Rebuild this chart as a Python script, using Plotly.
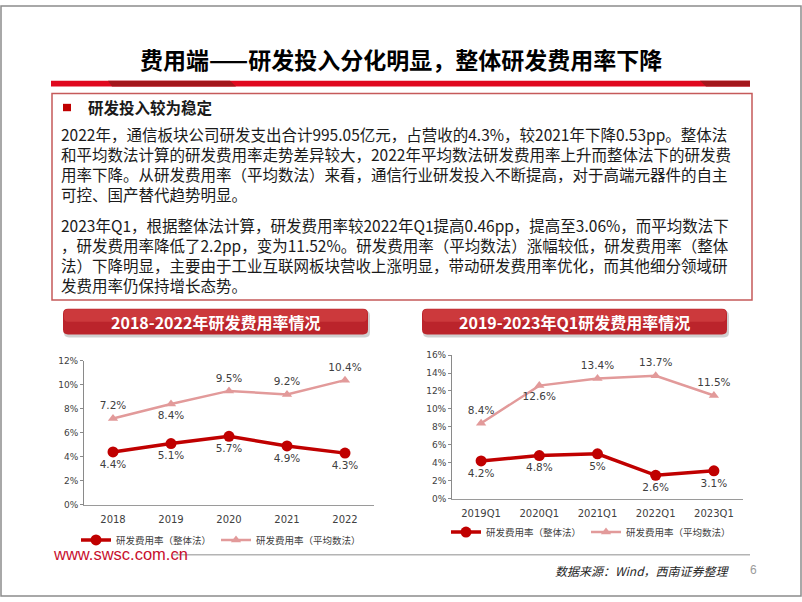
import plotly.graph_objects as go

# ---------------- data ----------------
years = ["2018", "2019", "2020", "2021", "2022"]
overall_year = [4.4, 5.1, 5.7, 4.9, 4.3]        # 研发费用率（整体法）
average_year = [7.2, 8.4, 9.5, 9.2, 10.4]       # 研发费用率（平均数法）

quarters = ["2019Q1", "2020Q1", "2021Q1", "2022Q1", "2023Q1"]
overall_q1 = [4.2, 4.8, 5.0, 2.6, 3.1]
average_q1 = [8.4, 12.6, 13.4, 13.7, 11.5]

left_yticks = [0, 2, 4, 6, 8, 10, 12]
right_yticks = [0, 2, 4, 6, 8, 10, 12, 14, 16]

name_overall = "研发费用率（整体法）"
name_average = "研发费用率（平均数法）"

title_text = "费用端——研发投入分化明显，整体研发费用率下降"
box_heading = "研发投入较为稳定"
para1 = [
    "2022年，通信板块公司研发支出合计995.05亿元，占营收的4.3%，较2021年下降0.53pp。整体法",
    "和平均数法计算的研发费用率走势差异较大，2022年平均数法研发费用率上升而整体法下的研发费",
    "用率下降。从研发费用率（平均数法）来看，通信行业研发投入不断提高，对于高端元器件的自主",
    "可控、国产替代趋势明显。",
]
para2 = [
    "2023年Q1，根据整体法计算，研发费用率较2022年Q1提高0.46pp，提高至3.06%，而平均数法下",
    "，研发费用率降低了2.2pp，变为11.52%。研发费用率（平均数法）涨幅较低，研发费用率（整体",
    "法）下降明显，主要由于工业互联网板块营收上涨明显，带动研发费用率优化，而其他细分领域研",
    "发费用率仍保持增长态势。",
]
left_title = "2018-2022年研发费用率情况"
right_title = "2019-2023年Q1研发费用率情况"
source_text = "数据来源：Wind，西南证券整理"
site_text = "www.swsc.com.cn"
page_no = "6"

# ---------------- helpers ----------------
W, H = 802, 602
def X(px):
    return px / W
def Y(py):
    return 1 - py / H

DARK_RED = "#c00000"
PINK = "#e29a9a"
CJK = "Noto Sans CJK SC"

def fmt(v):
    return f"{v:g}%"

def rrect(x0, y0, x1, y1, r):
    return (f"M {X(x0+r)},{Y(y0)} L {X(x1-r)},{Y(y0)} Q {X(x1)},{Y(y0)} {X(x1)},{Y(y0+r)} "
            f"L {X(x1)},{Y(y1-r)} Q {X(x1)},{Y(y1)} {X(x1-r)},{Y(y1)} "
            f"L {X(x0+r)},{Y(y1)} Q {X(x0)},{Y(y1)} {X(x0)},{Y(y1-r)} "
            f"L {X(x0)},{Y(y0+r)} Q {X(x0)},{Y(y0)} {X(x0+r)},{Y(y0)} Z")

fig = go.Figure()

label_font = dict(size=10.5, color="#404040", family="DejaVu Sans")

# left chart
fig.add_trace(go.Scatter(
    x=years, y=overall_year, mode="lines+markers+text", name=name_overall,
    line=dict(color=DARK_RED, width=3.5), marker=dict(symbol="circle", size=11, color=DARK_RED),
    text=[fmt(v) for v in overall_year], textposition="bottom center", textfont=label_font,
    xaxis="x", yaxis="y", legend="legend", cliponaxis=False))
fig.add_trace(go.Scatter(
    x=years, y=average_year, mode="lines+markers+text", name=name_average,
    line=dict(color=PINK, width=2.5), marker=dict(symbol="triangle-up", size=9, color=PINK),
    text=[fmt(v) for v in average_year],
    textposition=["top center", "bottom center", "top center", "top center", "top center"],
    textfont=label_font, xaxis="x", yaxis="y", legend="legend", cliponaxis=False))

# right chart
fig.add_trace(go.Scatter(
    x=quarters, y=overall_q1, mode="lines+markers+text", name=name_overall,
    line=dict(color=DARK_RED, width=3.5), marker=dict(symbol="circle", size=11, color=DARK_RED),
    text=[fmt(v) for v in overall_q1], textposition="bottom center", textfont=label_font,
    xaxis="x2", yaxis="y2", legend="legend2", cliponaxis=False))
fig.add_trace(go.Scatter(
    x=quarters, y=average_q1, mode="lines+markers+text", name=name_average,
    line=dict(color=PINK, width=2.5), marker=dict(symbol="triangle-up", size=9, color=PINK),
    text=[fmt(v) for v in average_q1],
    textposition=["top center", "bottom center", "top center", "top center", "top center"],
    textfont=label_font, xaxis="x2", yaxis="y2", legend="legend2", cliponaxis=False))

axis_x = dict(type="category", range=[-0.5, 4.5], showline=True, linecolor="#9a9a9a", linewidth=1,
              ticks="", showgrid=False, zeroline=False, fixedrange=True, ticklabelstandoff=5,
              tickfont=dict(size=10, color="#404040", family="DejaVu Sans"))
axis_y = dict(showline=True, linecolor="#8a8a8a", linewidth=1, ticks="outside", ticklen=3,
              tickcolor="#8a8a8a", showgrid=False, zeroline=False, fixedrange=True,
              tickfont=dict(size=9, color="#404040", family="DejaVu Sans"))

legend_common = dict(orientation="h", font=dict(size=9.5, color="#404040", family=CJK),
                     bgcolor="rgba(0,0,0,0)", itemwidth=30, xanchor="left", yanchor="middle",
                     tracegroupgap=0)

shapes = []
annotations = []

# slide border
shapes.append(dict(type="rect", xref="paper", yref="paper", x0=X(1), x1=X(801), y0=Y(1), y1=Y(601),
                   line=dict(color="#8c8c8c", width=1.5), layer="below"))
# title bar
shapes.append(dict(type="rect", xref="paper", yref="paper", x0=X(51), x1=X(750), y0=Y(77), y1=Y(83),
                   fillcolor="#e0081e", line=dict(width=0), layer="below"))
shapes.append(dict(type="path", xref="paper", yref="paper",
                   path=f"M {X(108)},{Y(77)} L {X(230)},{Y(77)} L {X(236)},{Y(83)} L {X(112)},{Y(83)} Z",
                   fillcolor="#a3161b", line=dict(width=0), layer="below"))
shapes.append(dict(type="path", xref="paper", yref="paper",
                   path=f"M {X(700)},{Y(77)} L {X(750)},{Y(77)} L {X(750)},{Y(83)} L {X(706)},{Y(83)} Z",
                   fillcolor="#a3161b", line=dict(width=0), layer="below"))
# text box
shapes.append(dict(type="rect", xref="paper", yref="paper", x0=X(52), x1=X(752), y0=Y(90), y1=Y(300),
                   line=dict(color="#c55a5a", width=1.5), layer="below"))
# bullet
shapes.append(dict(type="rect", xref="paper", yref="paper", x0=X(63), x1=X(71), y0=Y(100.5), y1=Y(108),
                   fillcolor="#c00000", line=dict(width=0), layer="below"))
# banners
for (bx0, bx1) in [(63, 368), (422, 727)]:
    shapes.append(dict(type="path", xref="paper", yref="paper", path=rrect(bx0 + 1, 311, bx1 + 2, 338, 5),
                       fillcolor="rgba(120,120,120,0.35)", line=dict(width=0), layer="below"))
    shapes.append(dict(type="path", xref="paper", yref="paper", path=rrect(bx0, 309, bx1, 335, 5),
                       fillcolor="#bb242b", line=dict(width=0), layer="below"))
    shapes.append(dict(type="path", xref="paper", yref="paper", path=rrect(bx0 + 1, 309.5, bx1 - 1, 322, 4),
                       fillcolor="rgba(255,120,110,0.25)", line=dict(width=0), layer="below"))
# footer line
shapes.append(dict(type="line", xref="paper", yref="paper", x0=X(173), x1=X(750), y0=Y(559), y1=Y(559),
                   line=dict(color="#b4b4b4", width=1.5), layer="below"))

def ann(text, x, y, size, color="#000000", xanchor="left", family=CJK, **kw):
    annotations.append(dict(text=text, x=X(x), y=Y(y), xref="paper", yref="paper", showarrow=False,
                            xanchor=xanchor, yanchor="middle", align="left",
                            font=dict(size=size, color=color, family=family, **kw)))

ann(f"<b>{title_text}</b>", 401, 55, 23, xanchor="center")
ann(f"<b>{box_heading}</b>", 86, 104, 15.5, color="#1a1a1a")
ann("<br>".join(para1), 59, 162, 15.5, color="#1a1a1a")
ann("<br>".join(para2), 59, 254, 15.5, color="#1a1a1a")
ann(f"<b>{left_title}</b>", 215.5, 322, 16, color="#ffffff", xanchor="center")
ann(f"<b>{right_title}</b>", 574.5, 322, 16, color="#ffffff", xanchor="center")
ann(site_text, 51, 558, 16.5, color="#c8102e", family="Liberation Sans")
ann(source_text, 732, 575, 12, color="#262626", xanchor="right", style="italic")
ann(page_no, 748, 575, 12, color="#9a9a9a", family="Liberation Sans")

fig.update_layout(
    width=W, height=H, margin=dict(l=0, r=0, t=0, b=0, pad=0),
    paper_bgcolor="#ffffff", plot_bgcolor="#ffffff", showlegend=True,
    xaxis=dict(axis_x, domain=[X(84), X(374)], anchor="y"),
    yaxis=dict(axis_y, domain=[Y(508), Y(362)], range=[0, 12], tickvals=left_yticks,
               ticktext=[f"{v}%" for v in left_yticks], anchor="x"),
    xaxis2=dict(axis_x, domain=[X(452), X(743)], anchor="y2"),
    yaxis2=dict(axis_y, domain=[Y(502), Y(356)], range=[0, 16], tickvals=right_yticks,
                ticktext=[f"{v}%" for v in right_yticks], anchor="x2"),
    legend=dict(legend_common, x=X(76), y=Y(544)),
    legend2=dict(legend_common, x=X(446), y=Y(536)),
    shapes=shapes, annotations=annotations,
)

fig.write_html("out.html", config={"displayModeBar": False},
               post_script="document.body.style.margin='0';")
